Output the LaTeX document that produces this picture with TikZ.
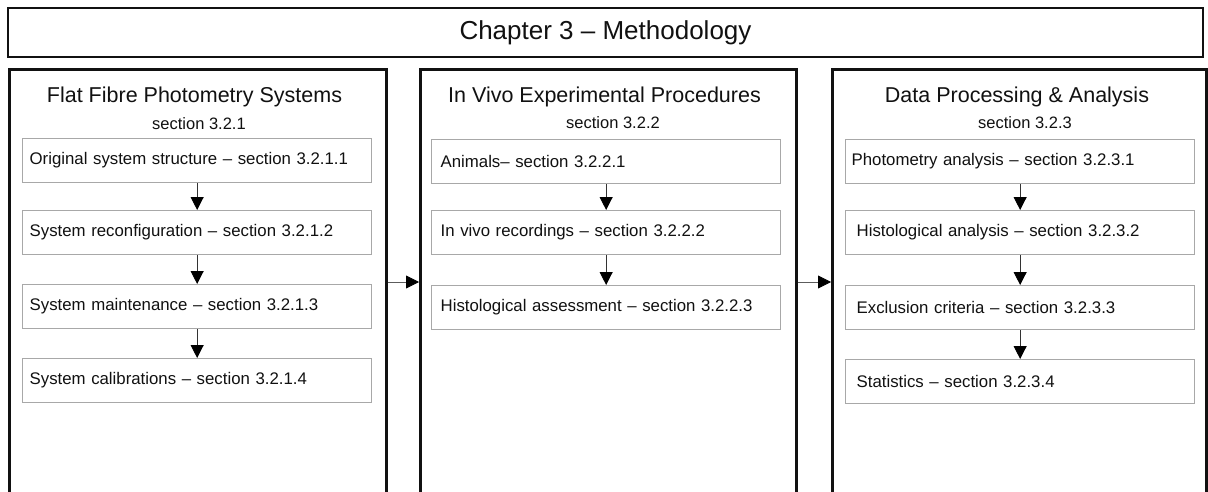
\documentclass[tikz,border=0pt]{standalone}
\usepackage{fontspec}
\setmainfont{Liberation Sans}
\usetikzlibrary{arrows.meta}
\definecolor{ink}{HTML}{111111}
\definecolor{subedge}{HTML}{A8A8A8}
\definecolor{stem}{HTML}{333333}
\begin{document}
\begin{tikzpicture}[x=1pt,y=-1pt,
  titlebox/.style={draw=ink, line width=2.4pt, minimum width=1195pt, minimum height=49pt, inner sep=0pt,
    text=ink, font=\fontsize{26}{30}\selectfont},
  container/.style={draw=ink, line width=2.6pt, anchor=north west, minimum width=#1, minimum height=460pt, inner sep=0pt},
  heading/.style={anchor=base, text=ink, inner sep=0pt, font=\fontsize{21.5}{25}\selectfont},
  secnum/.style={anchor=base, text=ink, inner sep=0pt, font=\fontsize{16.5}{20}\selectfont},
  subbox/.style={draw=subedge, line width=1.3pt, anchor=north west, text width=335pt, align=left,
    minimum height=44pt, inner xsep=7pt, inner ysep=0pt, text=ink, font=\fontsize{16.8}{20}\selectfont},
  flow/.style={draw=stem, line width=0.9pt, -{Triangle[length=13pt,width=13pt,fill=black,color=black]}},
  link/.style={draw=stem!80, line width=0.8pt, -{Triangle[length=13pt,width=13pt,fill=black,color=black]}}
]
\useasboundingbox (0,0) rectangle (1208,492);
\clip (0,0) rectangle (1208,492);
\fill[white] (0,0) rectangle (1208,492);

\node[titlebox] (title) at (605.5,32.5) {Chapter 3 -- Methodology};

% containers
\node[container=377pt] (c1) at (8,68) {};
\node[container=376pt] (c2) at (419,68) {};
\node[container=374pt] (c3) at (831,68) {};

% headings
\node[heading] (h1) at (194.5,103) {Flat Fibre Photometry Systems};
\node[secnum] (s1) at (199,130) {section 3.2.1};
\node[heading] (h2) at (604.5,103) {In Vivo Experimental Procedures};
\node[secnum] (s2) at (613,129) {section 3.2.2};
\node[heading] (h3) at (1017,103) {Data Processing \& Analysis};
\node[secnum] (s3) at (1025,129) {section 3.2.3};

% column 1
\node[subbox] (a1) at (22,138) {Original system structure -- section 3.2.1.1};
\node[subbox] (a2) at (22,210) {System reconfiguration -- section 3.2.1.2};
\node[subbox] (a3) at (22,284) {System maintenance -- section 3.2.1.3};
\node[subbox] (a4) at (22,358) {System calibrations -- section 3.2.1.4};
% column 2
\node[subbox, inner xsep=9pt, text width=331pt] (b1) at (431,139) {Animals-- section 3.2.2.1};
\node[subbox, inner xsep=9pt, text width=331pt] (b2) at (431,210) {In vivo recordings -- section 3.2.2.2};
\node[subbox, inner xsep=9pt, text width=331pt] (b3) at (431,285) {Histological assessment -- section 3.2.2.3};
% column 3
\node[subbox, inner xsep=6pt, text width=337pt] (d1) at (845,139) {Photometry analysis -- section 3.2.3.1};
\node[subbox, inner xsep=11pt, text width=327pt] (d2) at (845,210) {Histological analysis -- section 3.2.3.2};
\node[subbox, inner xsep=11pt, text width=327pt] (d3) at (845,285) {Exclusion criteria -- section 3.2.3.3};
\node[subbox, inner xsep=11pt, text width=327pt] (d4) at (845,359) {Statistics -- section 3.2.3.4};

% vertical arrows
\draw[flow] (a1) -- (a2);
\draw[flow] (a2) -- (a3);
\draw[flow] (a3) -- (a4);
\draw[flow] (b1) -- (b2);
\draw[flow] (b2) -- (b3);
\draw[flow] (d1) -- (d2);
\draw[flow] (d2) -- (d3);
\draw[flow] (d3) -- (d4);

% horizontal arrows
\coordinate (ay) at (0,282);
\draw[link] (c1.east |- ay) -- (c2.west |- ay);
\draw[link] (c2.east |- ay) -- (c3.west |- ay);
\end{tikzpicture}
\end{document}
